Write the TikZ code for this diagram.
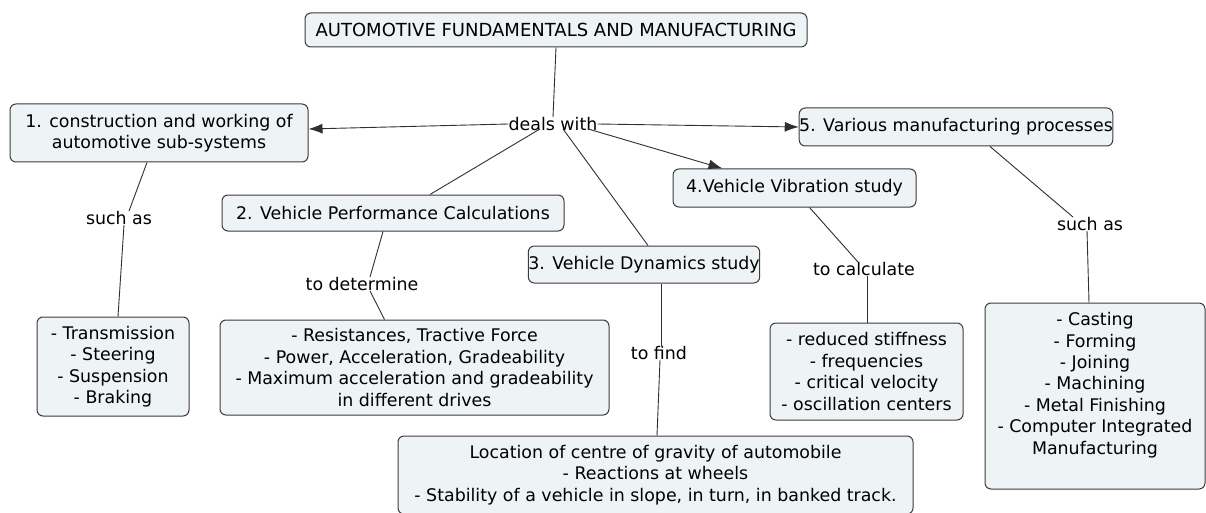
\documentclass[tikz,border=0pt]{standalone}
\usepackage{fontspec}
\setmainfont{DejaVu Sans}
\usetikzlibrary{arrows.meta}
\definecolor{boxfill}{HTML}{EEF3F6}
\definecolor{boxline}{HTML}{3C3C3C}
\definecolor{linkline}{HTML}{303030}
\newcommand\mapfont{\fontsize{17.4}{21.4}\selectfont}
\newcommand\titlefont{\fontsize{18}{21.4}\selectfont}
\tikzset{
  concept/.style={draw=boxline, fill=boxfill, rounded corners=6pt, line width=1pt,
    align=center, inner sep=0pt, font=\mapfont},
  phrase/.style={inner sep=0pt, font=\mapfont},
  link/.style={draw=linkline, line width=0.9pt},
  arrowlink/.style={link, -{Latex[length=14pt,width=10pt]}},
}
\begin{document}
\begin{tikzpicture}[x=1pt,y=-1pt]
\useasboundingbox (0,0) rectangle (1206,513);
\fill[white] (0,0) rectangle (1206,513);
\clip (0,0) rectangle (1206,513);

% concepts
\node[concept, font=\titlefont, minimum width=502, minimum height=34] (title) at (556,30) {AUTOMOTIVE FUNDAMENTALS AND MANUFACTURING};
\node[concept, minimum width=298, minimum height=58] (b1) at (159,133) {1. construction and working of\\automotive sub-systems};
\node[concept, minimum width=312, minimum height=38] (b5) at (956,127) {5. Various manufacturing processes};
\node[concept, minimum width=243, minimum height=38] (b4) at (794.5,188) {4.Vehicle Vibration study};
\node[concept, minimum width=342, minimum height=36] (b2) at (393,213) {2. Vehicle Performance Calculations};
\node[concept, minimum width=224, minimum height=37] (b3) at (644,264.5) {3. Vehicle Dynamics study};
\node[concept, minimum width=152, minimum height=99] (t1) at (113,366.5) {- Transmission\\- Steering\\- Suspension\\- Braking};
\node[concept, minimum width=389, minimum height=95] (res) at (414.5,367.5) {- Resistances, Tractive Force\\- Power, Acceleration, Gradeability\\- Maximum acceleration and gradeability\\in different drives};
\node[concept, minimum width=193, minimum height=97] (vib) at (866.5,371.5) {- reduced stiffness\\- frequencies\\- critical velocity\\- oscillation centers};
\node[concept, minimum width=220, minimum height=186] (mf) at (1095,396) {- Casting\\- Forming\\- Joining\\- Machining\\- Metal Finishing\\- Computer Integrated\\Manufacturing\\[4pt]};
\node[concept, minimum width=515, minimum height=78] (bot) at (655.5,475) {Location of centre of gravity of automobile\\- Reactions at wheels\\- Stability of a vehicle in slope, in turn, in banked track.};

% linking phrases
\node[phrase] (deals) at (553,124) {deals with};
\node[phrase] (suchL) at (119,218) {such as};
\node[phrase] (tdet) at (362,284) {to determine};
\node[phrase] (tfind) at (659,353) {to find};
\node[phrase] (tcalc) at (864,269) {to calculate};
\node[phrase] (suchR) at (1090,224) {such as};

% connectors
\draw[link] (title.south) -- (deals.north);
\draw[arrowlink] (deals.west) -- ([yshift=4pt]b1.east);
\draw[arrowlink] (deals.east) -- (b5.west);
\draw[arrowlink] ([xshift=35pt,yshift=2pt]deals.south) -- ([xshift=-72pt]b4.north);
\draw[link] ([xshift=-13pt,yshift=2pt]deals.south) -- ([xshift=37pt]b2.north);
\draw[link] ([xshift=10pt,yshift=2pt]deals.south) -- ([xshift=4pt]b3.north);

\draw[link] ([xshift=-12pt]b1.south) -- ([xshift=10pt]suchL.north);
\draw[link] ([xshift=5pt]suchL.south) -- ([xshift=5pt]t1.north);

\draw[link] ([xshift=-10pt]b2.south) -- ([xshift=8pt]tdet.north);
\draw[link] ([xshift=8pt]tdet.south) -- ([xshift=-30pt]res.north);

\draw[link] ([xshift=17pt]b3.south) -- ([xshift=2pt]tfind.north);
\draw[link] ([xshift=1pt]tfind.south) -- ([xshift=1.5pt]bot.north);

\draw[link] ([xshift=15pt]b4.south) -- ([xshift=-6pt]tcalc.north);
\draw[link] ([xshift=3pt]tcalc.south) -- ([xshift=0.5pt]vib.north);

\draw[link] ([xshift=34pt]b5.south) -- ([xshift=-17pt]suchR.north);
\draw[link] ([xshift=-3pt]suchR.south) -- ([xshift=-6pt]mf.north);
\end{tikzpicture}
\end{document}
